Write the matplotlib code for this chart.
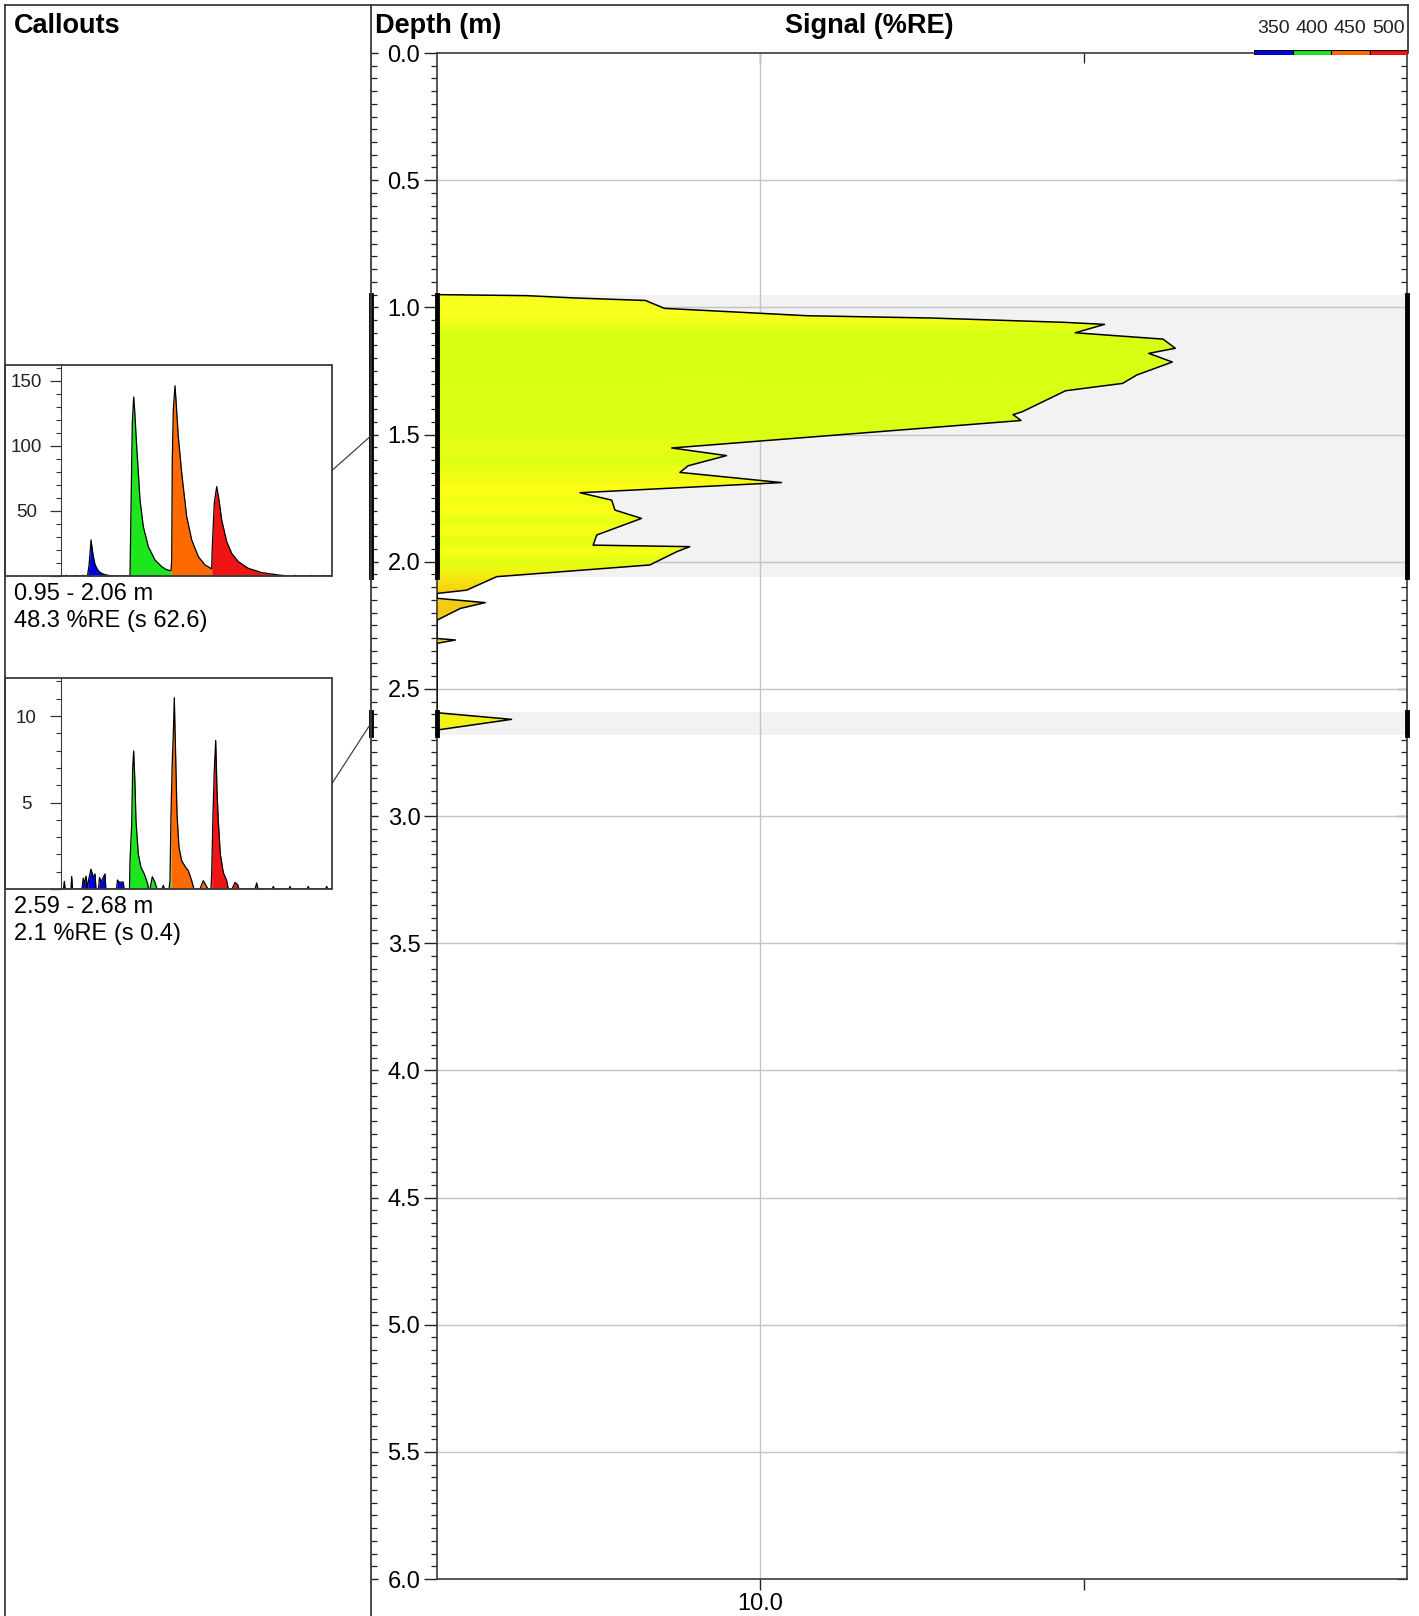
import matplotlib
matplotlib.use("Agg")
import matplotlib.pyplot as plt
import numpy as np
from matplotlib.patches import Rectangle, ConnectionPatch
from matplotlib.lines import Line2D
from matplotlib.colors import to_rgb
from matplotlib.ticker import MultipleLocator, FixedLocator, NullFormatter

plt.rcParams['font.family'] = ['Liberation Sans', 'DejaVu Sans']

depth_m = [0.950, 0.954, 0.963, 0.973, 1.004, 1.033, 1.042, 1.059, 1.067, 1.100,
           1.125, 1.161, 1.181, 1.215, 1.266, 1.299, 1.328, 1.410, 1.422, 1.445,
           1.553, 1.583, 1.623, 1.649, 1.689, 1.729, 1.758, 1.797, 1.830, 1.895,
           1.935, 1.941, 1.961, 2.013, 2.059, 2.112, 2.125,
           2.144, 2.161, 2.184, 2.230,
           2.302, 2.308, 2.321,
           2.594, 2.620, 2.662]
signal_re = [1.0, 1.89, 2.65, 4.41, 5.05, 13.97, 33.7, 87.1, 116.0, 94.2,
             176.0, 192.0, 159.0, 188.0, 146.0, 132.0, 87.9, 64.7, 60.5, 64.0,
             5.32, 7.86, 5.98, 5.64, 11.63, 2.77, 3.47, 3.55, 4.29, 3.12,
             3.04, 6.05, 5.51, 4.55, 1.53, 1.235, 1.0,
             1.0, 1.41, 1.18, 1.0,
             1.0, 1.14, 1.0,
             1.0, 1.70, 1.0]

# fill colour by depth (colour-coded waveform)
band_depth = [0.94, 1.03, 1.07, 1.10, 1.30, 1.50, 1.56, 1.60, 1.64, 1.68, 1.72,
              1.76, 1.80, 1.84, 1.88, 1.92, 1.96, 2.00, 2.04, 2.08, 2.12, 2.20,
              2.32, 2.58, 2.70]
band_color = ['#f6ff1e', '#faff1e', '#e6ff16', '#d6ff14', '#d8ff14', '#dcff14',
              '#e8ff14', '#daff14', '#eaff14', '#f4fb14', '#ffff16', '#eeff14',
              '#fcff16', '#e6ff14', '#faff16', '#e4ff14', '#f6ff16', '#e2ff14',
              '#f2f412', '#f6e010', '#f4cf12', '#f2ca18', '#f4cc18', '#f3f215',
              '#f3f215']

callout_top = [0.95, 2.59]
callout_bot = [2.06, 2.68]
callout_mean = [48.3, 2.1]
callout_sd = [62.6, 0.4]
callout_ymax = [162, 12.2]
callout_major = [50, 5]
callout_minor = [10, 1]

channel_labels = ['350', '400', '450', '500']
channel_colors = ['#0000e6', '#1ee61e', '#ff6a00', '#f01414']
channel_edges = [0, 67, 110, 150.7, 228]

wave1_t = [0, 4, 5, 6, 14, 15, 16, 21, 22, 23, 26.5, 28, 29.3, 30, 31, 32.3, 34,
           35.7, 38, 40.7, 44, 48, 52, 69, 70, 71.3, 72.7, 73.6, 75.7, 79, 82.3,
           87.3, 94, 100.7, 105, 110, 110.7, 111.3, 112.3, 114, 115, 117.3, 120.7,
           125.7, 130.7, 137.3, 144, 150.7, 151.3, 153.3, 155.7, 158, 160.7, 165.7,
           170.7, 177.3, 187.3, 200.7, 217.3, 227, 233, 234, 235, 249, 250, 251,
           261, 262, 263, 271]
wave1_v = [0, 0, 0.6, 0, 0, 0.5, 0, 0, 0.6, 0, 0, 8, 20, 27.7, 22, 15, 9,
           6, 3.5, 2, 1, 0.4, 0, 0, 50.7, 117.4, 137.4, 128, 99.5, 58.4, 37.9,
           22.6, 12.3, 7.2, 5.0, 4.0, 12.3, 89, 127.7, 146.1, 135, 107, 79,
           45.6, 27.7, 14.9, 8.5, 5.5, 22.6, 55.9, 68.7, 58.4, 43, 26.4,
           17.4, 11, 5.9, 2.6, 0.8, 0, 0, 0.6, 0, 0, 0.5, 0,
           0, 0.5, 0, 0]

wave2_t = [0, 2.5, 3.3, 4.2, 10, 10.7, 11.5, 21, 22.3, 23.5, 25, 26.5, 27.5, 30,
           32, 34, 35, 37.5, 38.5, 40, 41.5, 44, 44.8, 55.5, 56.5, 58, 61, 62.3,
           63, 68.5, 69, 70.7, 71.7, 72.7, 74, 75, 77.3, 80, 83.3, 86.7, 87.5, 89,
           91.3, 94, 96, 101, 102.3, 103.5, 108, 109, 110, 111.3, 112.3, 113.3,
           114.7, 116, 118, 120.7, 124.7, 127.3, 130.7, 133, 139, 142.3, 145, 147,
           150, 150.7, 152, 153.3, 154.7, 156, 157.3, 159.3, 162.3, 165.7, 167.3,
           171, 174, 176.7, 178, 194, 195.7, 197, 211, 212.3, 213.5, 228, 229,
           230, 246, 247.3, 248.5, 264.5, 265.7, 267, 271]
wave2_v = [0, 0, 0.44, 0, 0, 0.73, 0, 0, 0.63, 0.3, 0.75, 0, 0.5, 1.15,
           0.7, 0.87, 0, 0, 0.67, 0.4, 0.6, 0.87, 0, 0, 0.52, 0.4, 0.4, 0.4,
           0, 0, 1.63, 3.75, 7.02, 7.98, 6.06, 3.94, 2.02, 1.25, 0.87, 0.29, 0, 0,
           0.71, 0.38, 0, 0, 0.21, 0, 0, 0.48, 4.33, 7.4, 8.93, 11.06,
           7.6, 4.33, 2.4, 1.63, 1.25, 1.06, 0.48, 0, 0, 0.48, 0.2, 0,
           0, 0.87, 4.33, 6.83, 8.6, 5.67, 3.94, 2.02, 0.96, 0.48, 0,
           0, 0.38, 0.25, 0, 0, 0.35, 0, 0, 0.15, 0, 0, 0.15,
           0, 0, 0.15, 0, 0, 0.15, 0, 0]

waves = [(wave1_t, wave1_v), (wave2_t, wave2_v)]

XMIN, XMAX = 1.0, 1000.0
DMAX = 6.0

# --- layout (pixels of the 1419x1616 picture) ---
W, H = 1419, 1616


def fx(px):
    return px / W


def fy(py):
    return 1 - py / H


def box(x0, y0, x1, y1):
    return [x0 / W, 1 - y1 / H, (x1 - x0) / W, (y1 - y0) / H]


fig = plt.figure(figsize=(W / 100, H / 100), dpi=100)
edge = '#3a3a3a'

# main log panel
ax = fig.add_axes(box(437, 53, 1407, 1579))
ax.set_xscale('log')
ax.set_xlim(XMIN, XMAX)
ax.set_ylim(DMAX, 0)

for t, b in zip(callout_top, callout_bot):
    ax.axhspan(t, b, color='#f2f2f2', lw=0, zorder=0.5)
for d in np.arange(0.5, DMAX, 0.5):
    ax.axhline(d, color='#c4c4c4', lw=1, zorder=1)
ax.axvline(10, color='#c4c4c4', lw=1, zorder=1)

poly = ax.fill_betweenx(depth_m, XMIN, signal_re, facecolor='none', edgecolor='none')
rows = np.linspace(band_depth[0], band_depth[-1], 500)
rgb = np.array([to_rgb(c) for c in band_color])
img = np.stack([np.interp(rows, band_depth, rgb[:, k]) for k in range(3)], axis=-1)[:, None, :]
im = ax.imshow(img, extent=[XMIN, XMAX, band_depth[-1], band_depth[0]], aspect='auto',
               interpolation='bilinear', zorder=2)
im.set_clip_path(poly.get_paths()[0], transform=ax.transData)
ax.plot(signal_re, depth_m, color='k', lw=1.1, zorder=3)
ax.set_xlim(XMIN, XMAX)
ax.set_ylim(DMAX, 0)

for t, b in zip(callout_top, callout_bot):
    for xv in (XMIN, XMAX):
        ax.plot([xv, xv], [t, b], color='k', lw=3.5, clip_on=False, zorder=5)

ax.yaxis.set_major_locator(MultipleLocator(0.5))
ax.yaxis.set_minor_locator(MultipleLocator(0.05))
ax.yaxis.set_major_formatter(lambda v, p: f'{v:.1f}')
ax.tick_params(axis='y', which='major', direction='out', length=9.5, width=1,
               labelsize=17, pad=2.5, colors='#222', labelcolor='k')
ax.tick_params(axis='y', which='minor', direction='out', length=4, width=0.9, colors='#222')
ax.set_xticks([10, 100], ['10.0', ''])
ax.xaxis.set_minor_locator(FixedLocator([]))
ax.tick_params(axis='x', which='major', direction='out', length=8, width=1,
               labelsize=17, pad=2, colors='#222', labelcolor='k')
for s in ax.spines.values():
    s.set_color(edge)
    s.set_linewidth(1.2)

sec_r = ax.secondary_yaxis('right')
sec_r.yaxis.set_major_locator(MultipleLocator(0.5))
sec_r.yaxis.set_minor_locator(MultipleLocator(0.05))
sec_r.yaxis.set_major_formatter(NullFormatter())
sec_r.tick_params(which='major', direction='in', length=7, width=0.9, colors='#222')
sec_r.tick_params(which='minor', direction='in', length=4, width=0.9, colors='#222')
sec_r.spines['right'].set_visible(False)

sec_t = ax.secondary_xaxis('top')
sec_t.set_xticks([10, 100], ['', ''])
sec_t.xaxis.set_minor_locator(FixedLocator([]))
sec_t.tick_params(direction='in', length=7, width=0.9, colors='#222')
sec_t.spines['top'].set_visible(False)

# depth track divider with inward ticks
ax_div = fig.add_axes(box(371, 53, 437, 1579), facecolor='none')
ax_div.set_xlim(0, 1)
ax_div.set_ylim(DMAX, 0)
ax_div.yaxis.set_major_locator(MultipleLocator(0.5))
ax_div.yaxis.set_minor_locator(MultipleLocator(0.05))
ax_div.yaxis.set_major_formatter(NullFormatter())
ax_div.tick_params(axis='y', which='major', direction='in', length=5, width=1, colors='#222')
ax_div.tick_params(axis='y', which='minor', direction='in', length=4, width=0.9, colors='#222')
ax_div.set_xticks([])
for s in ax_div.spines.values():
    s.set_visible(False)
for t, b in zip(callout_top, callout_bot):
    ax_div.plot([0, 0], [t, b], color='k', lw=3.5, clip_on=False, zorder=5)

# frame lines
for xs, ys in [([5, 5], [5, 1616]), ([5, 1408], [5, 5]), ([1408, 1408], [5, 53]),
               ([371, 371], [5, 1616])]:
    fig.add_artist(Line2D([fx(v) for v in xs], [fy(v) for v in ys],
                          transform=fig.transFigure, color=edge, lw=1.3))

# headers
fig.text(fx(14), fy(33), 'Callouts', fontsize=19.5, weight='bold', va='baseline')
fig.text(fx(375), fy(33), 'Depth (m)', fontsize=19.5, weight='bold', va='baseline')
fig.text(fx(869), fy(33), 'Signal (%RE)', fontsize=19.5, weight='bold', va='baseline', ha='center')

# wavelength colour key
ax_leg = fig.add_axes(box(1254, 49.5, 1408, 55))
ax_leg.barh(0, 1, left=np.arange(len(channel_colors)), height=1,
            color=channel_colors, edgecolor='k', lw=0.8)
ax_leg.set_xlim(0, len(channel_colors))
ax_leg.set_ylim(-0.5, 0.5)
ax_leg.set_yticks([])
ax_leg.xaxis.tick_top()
ax_leg.set_xticks(np.arange(len(channel_labels)) + 0.5, channel_labels)
ax_leg.tick_params(axis='x', length=0, pad=9, labelsize=14, labelcolor='#222')
for s in ax_leg.spines.values():
    s.set_visible(False)

# callouts
callout_px = [(365, 576), (678, 889)]
for i, (y0, y1) in enumerate(callout_px):
    fig.add_artist(Rectangle((fx(5), fy(y1)), (332 - 5) / W, (y1 - y0) / H,
                             transform=fig.transFigure, fill=False, edgecolor=edge, lw=1.3))
    axs = fig.add_axes(box(61, y0, 332, y1), facecolor='none')
    t = np.array(waves[i][0])
    v = np.array(waves[i][1])
    for k, c in enumerate(channel_colors):
        m = (t >= channel_edges[k]) & (t <= channel_edges[k + 1])
        axs.fill_between(t, 0, v, where=m, color=c, lw=0)
    axs.plot(t, v, color='k', lw=0.9)
    axs.set_xlim(0, 271)
    axs.set_ylim(0, callout_ymax[i])
    axs.set_xticks([])
    axs.yaxis.set_major_locator(MultipleLocator(callout_major[i]))
    axs.yaxis.set_minor_locator(MultipleLocator(callout_minor[i]))
    axs.yaxis.set_major_formatter(lambda val, p: '' if val == 0 else f'{val:g}')
    axs.tick_params(axis='y', which='major', direction='out', length=8, width=0.9,
                    labelsize=13.5, pad=17, colors='#333', labelcolor='#222')
    axs.tick_params(axis='y', which='minor', direction='out', length=3.5, width=0.8, colors='#333')
    for lab in axs.get_yticklabels():
        lab.set_ha('center')
    for name, s in axs.spines.items():
        s.set_visible(name == 'left')
        s.set_color(edge)
    mid = (callout_top[i] + callout_bot[i]) / 2
    fig.add_artist(ConnectionPatch(xyA=(1, 0.5), coordsA=axs.transAxes,
                                   xyB=(0, mid), coordsB=ax_div.transData,
                                   color='#444', lw=0.9))
    fig.text(fx(14), fy(y1 + 24), f'{callout_top[i]:.2f} - {callout_bot[i]:.2f} m',
             fontsize=17, va='baseline')
    fig.text(fx(14), fy(y1 + 51), f'{callout_mean[i]:.1f} %RE (s {callout_sd[i]:.1f})',
             fontsize=17, va='baseline')

fig.savefig('out.png', dpi=100)
